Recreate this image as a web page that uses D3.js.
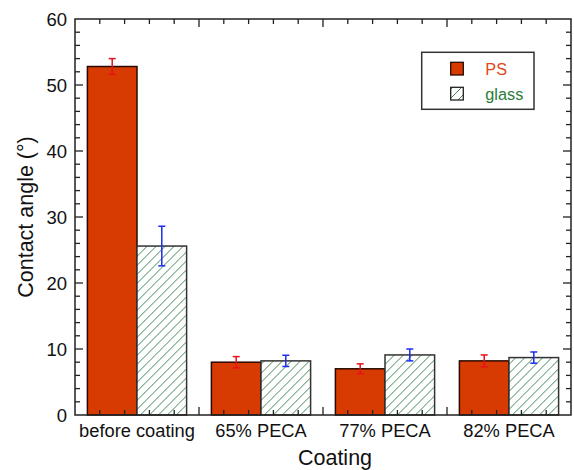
<!DOCTYPE html>
<html><head><meta charset="utf-8">
<script src="https://cdn.jsdelivr.net/npm/d3@7"></script>
<style>
html,body{margin:0;padding:0;background:#fff;}
svg{display:block;font-family:"Liberation Sans",Arial,Helvetica,sans-serif;}
</style></head>
<body><svg id="chart" width="574" height="470"></svg>
<script>
const categories = ["before coating","65% PECA","77% PECA","82% PECA"];
const seriesNames = ["PS","glass"];
const psValues = [52.8, 8.0, 7.0, 8.2];
const psErrors = [1.2, 0.85, 0.75, 0.9];
const glassValues = [25.6, 8.2, 9.1, 8.7];
const glassErrors = [3.0, 0.85, 0.9, 0.85];
const yTicks = [0,10,20,30,40,50,60];
const xTitle = "Coating";
const yTitle = "Contact angle (°)";

const svg = d3.select("#chart");
const L=75, R=571, T=19, B=415;
const x = d3.scaleBand().domain(categories).range([L,R]).paddingInner(0.2).paddingOuter(0.1);
const xs = d3.scaleBand().domain(seriesNames).range([0,x.bandwidth()]);
const y = d3.scaleLinear().domain([0,60]).range([B,T]);

const psFill="#d83b01", hatchColor="#3f8a55";
const defs = svg.append("defs");
const pat = defs.append("pattern").attr("id","hatch").attr("patternUnits","userSpaceOnUse")
  .attr("width",9).attr("height",9);
pat.append("rect").attr("width",9).attr("height",9).attr("fill","#fff");
pat.append("path").attr("d","M-2,2 L2,-2 M0,9 L9,0 M7,11 L11,7")
  .attr("stroke",hatchColor).attr("stroke-width",1);

const data = categories.map((c,i)=>({cat:c, vals:[
  {s:"PS", v:psValues[i], e:psErrors[i]},
  {s:"glass", v:glassValues[i], e:glassErrors[i]}]}));

const g = svg.append("g");
const grp = g.selectAll("g.grp").data(data).join("g").attr("transform",d=>`translate(${x(d.cat)},0)`);
grp.selectAll("rect").data(d=>d.vals).join("rect")
  .attr("x",d=>xs(d.s)).attr("width",xs.bandwidth())
  .attr("y",d=>y(d.v)).attr("height",d=>y(0)-y(d.v))
  .attr("fill",d=>d.s==="PS"?psFill:"url(#hatch)")
  .attr("stroke",d=>d.s==="PS"?"#2a0a00":"#333").attr("stroke-width",1.5);

// error bars
const eb = grp.selectAll("g.eb").data(d=>d.vals).join("g")
  .attr("stroke",d=>d.s==="PS"?"#e8101a":"#1a2cf0").attr("stroke-width",1.5);
eb.append("line").attr("x1",d=>xs(d.s)+xs.bandwidth()/2).attr("x2",d=>xs(d.s)+xs.bandwidth()/2)
  .attr("y1",d=>y(d.v+d.e)).attr("y2",d=>y(d.v-d.e));
eb.append("line").attr("x1",d=>xs(d.s)+xs.bandwidth()/2-3.5).attr("x2",d=>xs(d.s)+xs.bandwidth()/2+3.5)
  .attr("y1",d=>y(d.v+d.e)).attr("y2",d=>y(d.v+d.e));
eb.append("line").attr("x1",d=>xs(d.s)+xs.bandwidth()/2-3.5).attr("x2",d=>xs(d.s)+xs.bandwidth()/2+3.5)
  .attr("y1",d=>y(d.v-d.e)).attr("y2",d=>y(d.v-d.e));

// frame ticks
const axG = svg.append("g").attr("stroke","#222").attr("stroke-width",1.3);
const yMinor = d3.range(0,61,2);
yMinor.forEach(v=>{
  const major = v%10===0; const len = major?8:5;
  if(v===0||v===60) return;
  axG.append("line").attr("x1",L).attr("x2",L+len).attr("y1",y(v)).attr("y2",y(v));
  axG.append("line").attr("x1",R).attr("x2",R-len).attr("y1",y(v)).attr("y2",y(v));
});
const xt = d3.scaleLinear().domain([0,categories.length]).range([L,R]);
d3.range(1, categories.length*5).forEach(j=>{
  const major = j%5===0; const len = major?8:5;
  const px = xt(j/5);
  axG.append("line").attr("x1",px).attr("x2",px).attr("y1",B).attr("y2",B-len);
  axG.append("line").attr("x1",px).attr("x2",px).attr("y1",T).attr("y2",T+len);
});
svg.append("rect").attr("x",L).attr("y",T).attr("width",R-L).attr("height",B-T)
  .attr("fill","none").attr("stroke","#222").attr("stroke-width",1.5);

// y tick labels
svg.append("g").selectAll("text").data(yTicks).join("text")
  .attr("x",L-8).attr("y",d=>y(d)).attr("dy","0.36em").attr("text-anchor","end")
  .attr("font-size",18.5).attr("fill","#111").text(d=>d);
// x labels
svg.append("g").selectAll("text").data(categories).join("text")
  .attr("x",d=>x(d)+x.bandwidth()/2).attr("y",437).attr("text-anchor","middle")
  .attr("font-size",18.3).attr("fill","#111").text(d=>d);
svg.append("text").attr("x",335).attr("y",465).attr("text-anchor","middle")
  .attr("font-size",21.5).attr("fill","#111").text(xTitle);
svg.append("text").attr("transform",`translate(33,${(T+B)/2}) rotate(-90)`).attr("text-anchor","middle")
  .attr("font-size",21.5).attr("fill","#111").text(yTitle);

// legend
const lg = svg.append("g");
lg.append("rect").attr("x",421.7).attr("y",52.3).attr("width",112.3).attr("height",57)
  .attr("fill","#fff").attr("stroke","#333").attr("stroke-width",1.5);
const legendItems = [{s:"PS",fill:psFill,stroke:"#2a0a00",color:"#e2461a"},{s:"glass",fill:"url(#hatch)",stroke:"#222",color:"#2a7a3a"}];
legendItems.forEach((d,i)=>{
  const yy = 62.3 + i*25;
  lg.append("rect").attr("x",450.7).attr("y",yy).attr("width",12.6).attr("height",12.7)
    .attr("fill",d.fill).attr("stroke",d.stroke).attr("stroke-width",1.3);
  lg.append("text").attr("x",485.3).attr("y",yy+12.5).attr("font-size",16.3).attr("fill",d.color).text(d.s);
});
</script></body></html>
